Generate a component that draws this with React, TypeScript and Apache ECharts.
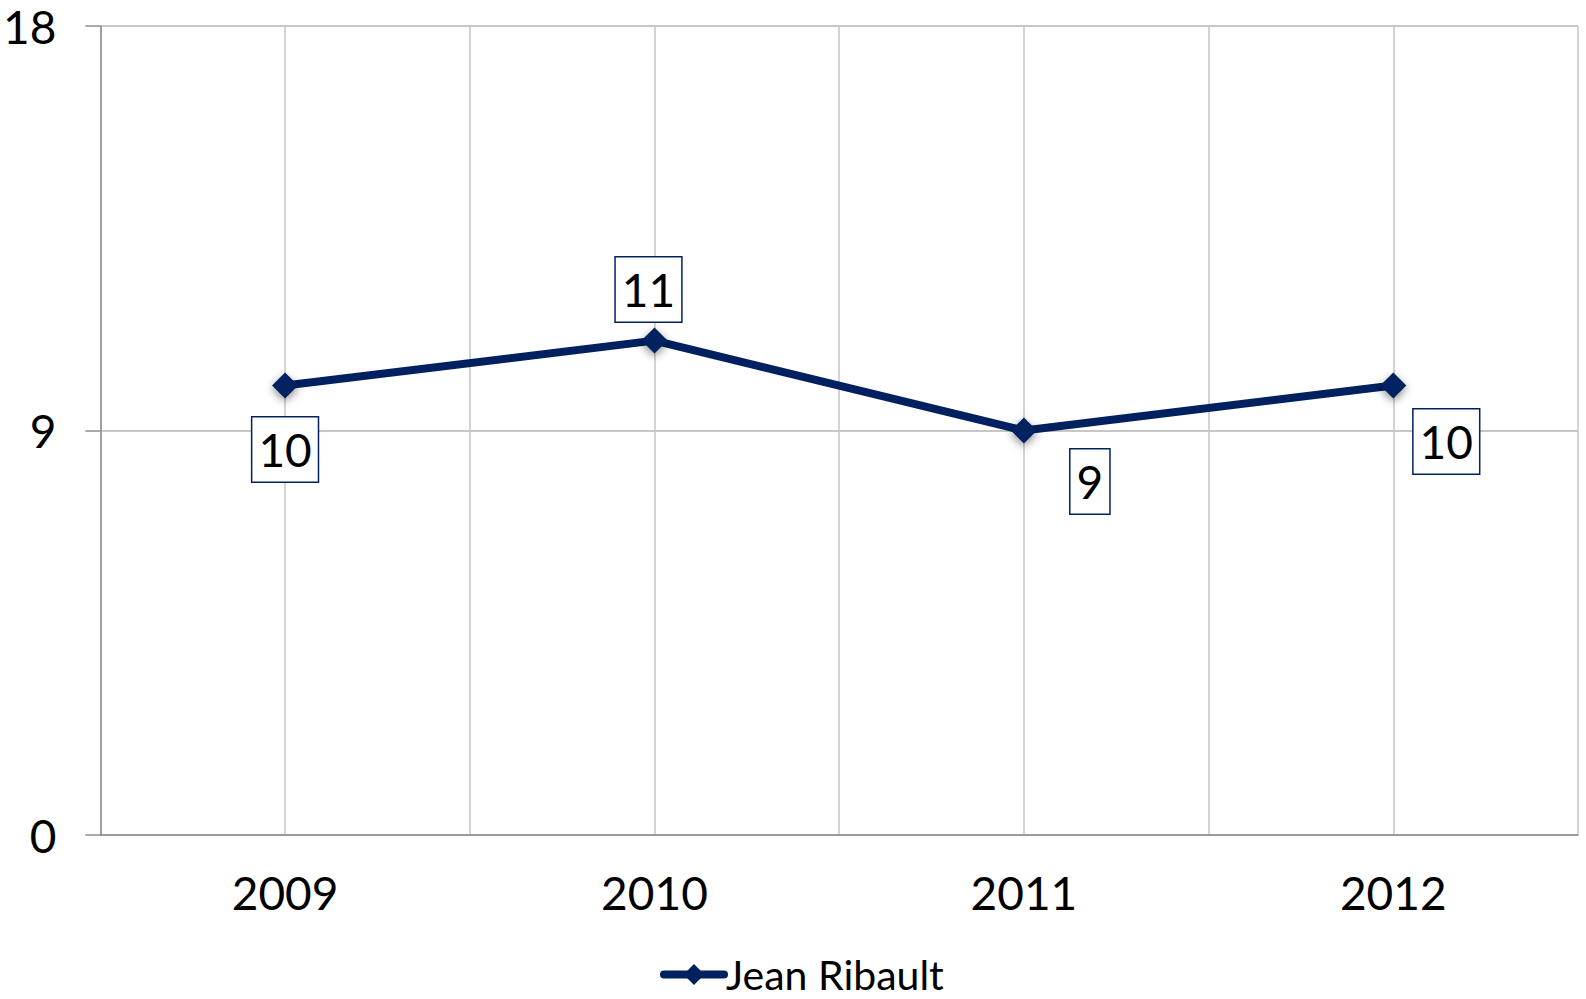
import React, { useEffect, useRef } from "react";
import * as echarts from "echarts";

const categories = ["2009", "2010", "2011", "2012"];
const seriesName = "Jean Ribault";
const values = [10, 11, 9, 10];
const labelOffsets: [number, number][] = [
  [0, 64],
  [-6, -51],
  [66, 51],
  [53, 56],
];
const yTicks = { min: 0, max: 18, interval: 9 };

const NAVY = "#002060";
const FONT = "Lato, 'Open Sans', sans-serif";

export default function App() {
  const ref = useRef<HTMLDivElement>(null);
  useEffect(() => {
    if (!ref.current) return;
    const chart = echarts.init(ref.current, null, { renderer: "svg" });
    chart.setOption({
      animation: false,
      backgroundColor: "#ffffff",
      textStyle: { fontFamily: FONT },
      grid: { left: 97, right: 8, top: 26, bottom: 164, containLabel: false },
      legend: {
        show: true,
        left: 655,
        top: 949,
        itemWidth: 60,
        itemHeight: 26,
        itemGap: 0,
        lineStyle: { width: 8, color: NAVY, cap: "round" },
        itemStyle: { color: NAVY },
        textStyle: { fontSize: 41, lineHeight: 40, color: "#000", fontFamily: FONT, padding: [0, 0, 0, -3] },
        data: [seriesName],
      },
      xAxis: [
        {
          type: "category",
          data: categories,
          boundaryGap: true,
          axisLine: { show: true, lineStyle: { color: "#8c8c8c", width: 1.5 } },
          axisTick: { show: false },
          splitLine: { show: false },
          axisLabel: { fontSize: 46, color: "#000", margin: 34, fontFamily: FONT },
        },
        {
          type: "value",
          min: 0,
          max: 8,
          interval: 1,
          position: "bottom",
          show: true,
          axisLine: { show: false },
          axisTick: { show: false },
          axisLabel: { show: false },
          splitLine: { show: true, lineStyle: { color: "#c4c4c4", width: 1.5 } },
        },
      ],
      yAxis: {
        type: "value",
        min: yTicks.min,
        max: yTicks.max,
        interval: yTicks.interval,
        axisLine: { show: true, lineStyle: { color: "#8c8c8c", width: 1.5 } },
        axisTick: { show: true, inside: false, length: 15, lineStyle: { color: "#8c8c8c", width: 1.5 } },
        splitLine: { show: true, lineStyle: { color: "#b4b4b4", width: 1.5 } },
        axisLabel: { fontSize: 46, color: "#000", margin: 44, fontFamily: FONT },
      },
      series: [
        {
          name: seriesName,
          type: "line",
          xAxisIndex: 0,
          data: values.map((v, i) => ({
            value: v,
            label: { offset: labelOffsets[i] },
          })),
          symbol: "diamond",
          symbolSize: 26,
          lineStyle: { color: NAVY, width: 8, cap: "round" },
          itemStyle: {
            color: NAVY,
            shadowBlur: 8,
            shadowColor: "rgba(0,0,0,0.45)",
            shadowOffsetY: 3,
          },
          label: {
            show: true,
            position: "inside",
            fontSize: 46,
            lineHeight: 46,
            color: "#000",
            fontFamily: FONT,
            backgroundColor: "#fff",
            borderColor: NAVY,
            borderWidth: 1.5,
            padding: [9, 6, 9, 6],
          },
          z: 5,
        },
      ],
    });
    return () => chart.dispose();
  }, []);
  return (
    <div
      ref={ref}
      style={{ position: "absolute", left: 0, top: 0, width: 1586, height: 999 }}
    />
  );
}
